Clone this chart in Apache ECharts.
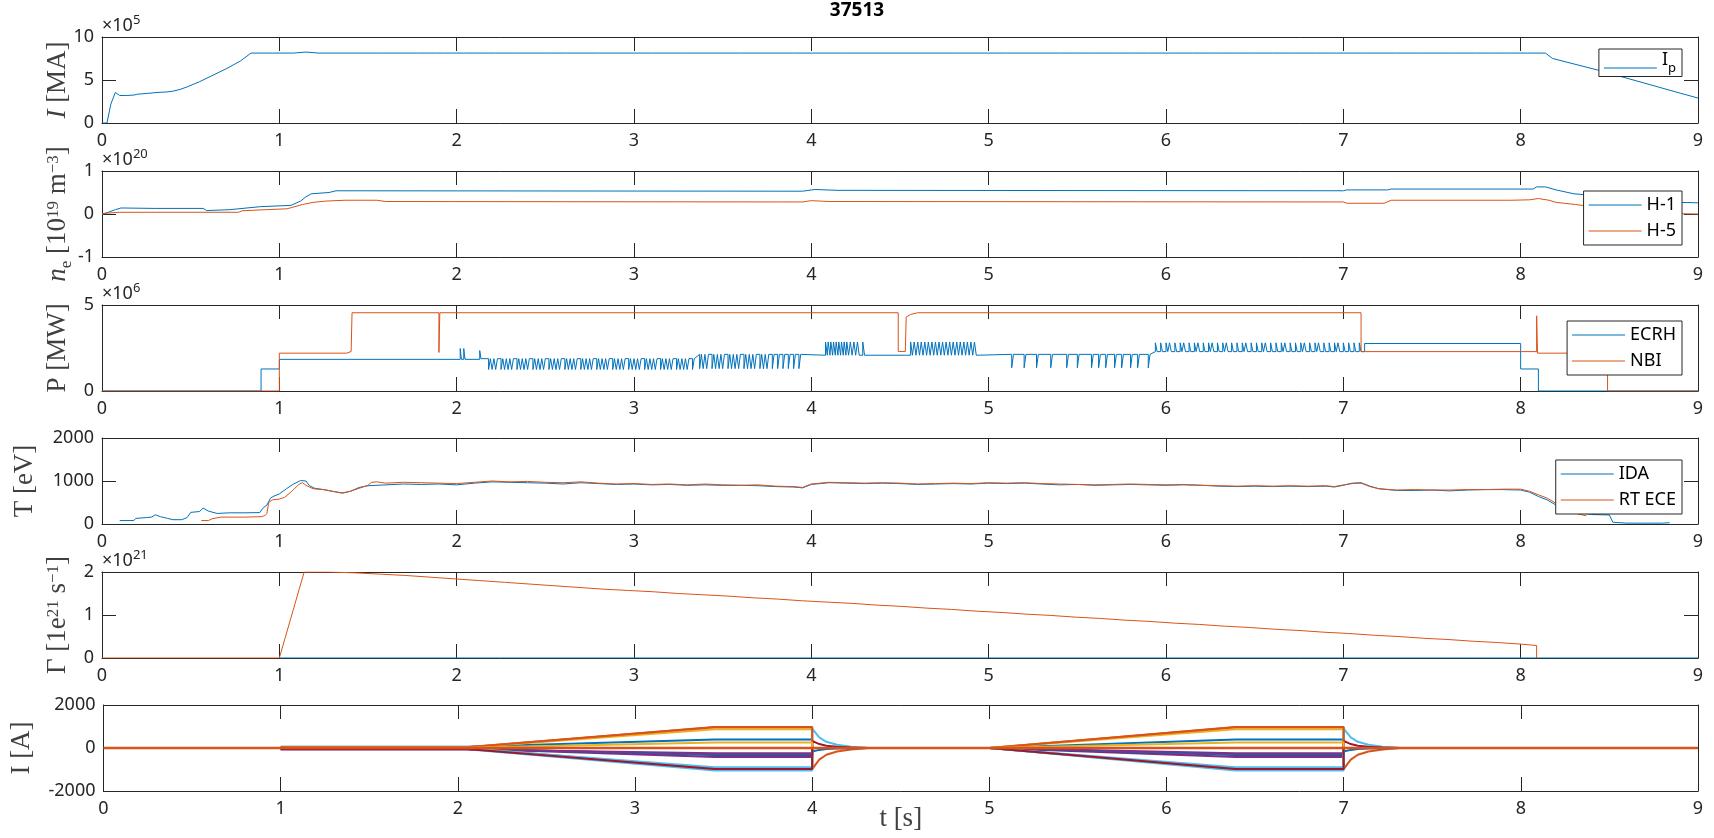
<!DOCTYPE html>
<html>
<head>
<meta charset="utf-8">
<title>37513</title>
<script src="https://cdn.jsdelivr.net/npm/echarts@6/dist/echarts.min.js"></script>
<style>
html, body { margin: 0; padding: 0; background: #fff; }
#main { width: 1714px; height: 838px; }
</style>
</head>
<body>
<div id="main"></div>
<script>
var myChart = echarts.init(document.getElementById('main'));

// ---- data ----
// plasma current, x1e5
var ipHeadT = [0, 0.028, 0.05, 0.075, 0.085, 0.1, 0.14, 0.18, 0.2, 0.26, 0.31, 0.36, 0.4, 0.44, 0.48, 0.55, 0.62, 0.7, 0.78, 0.84, 1.08, 1.09, 1.15, 1.16];
var ipHeadV = [0, 0, 2.2, 3.55, 3.6, 3.2, 3.2, 3.25, 3.35, 3.45, 3.55, 3.6, 3.7, 3.9, 4.2, 4.8, 5.5, 6.3, 7.2, 8.13, 8.13, 8.25, 8.25, 8.13];
var ipBlipT = [1.22, 1.28, 1.55, 1.72, 1.78, 1.83, 1.88, 1.93, 1.97, 2.05, 2.1, 2.16, 2.22, 2.35, 2.5, 2.62, 2.8, 3.1, 3.3, 3.6, 3.9, 4.2, 4.5, 4.8, 5.1, 5.4, 5.5, 5.6, 5.7, 5.8, 5.9, 6.05, 6.15, 6.25, 6.3, 6.4, 6.5, 6.6, 6.7, 6.85, 6.92, 7.1, 7.3, 7.45, 7.62, 7.75, 7.85, 7.92];
var ipFlat = 8.13, ipBlip = 8.35;
var ipTailT = [8.14, 8.18, 8.44, 8.9, 9.0];
var ipTailV = [8.13, 7.5, 6.13, 3.47, 2.9];

// density, x1e20
var h1T = [0, 0.028, 0.075, 0.107, 0.3, 0.57, 0.59, 0.72, 0.89, 1.065, 1.12, 1.15, 1.18, 1.28, 1.32, 3.95, 4.02, 4.15, 7.0, 7.02, 7.25, 7.27, 8.07, 8.09, 8.14, 8.2, 8.3, 8.9, 9.0];
var h1V = [0, 0.03, 0.1, 0.14, 0.13, 0.13, 0.08, 0.1, 0.17, 0.2, 0.3, 0.4, 0.47, 0.5, 0.54, 0.53, 0.57, 0.55, 0.54, 0.56, 0.56, 0.58, 0.58, 0.63, 0.63, 0.56, 0.47, 0.27, 0.26];
var h5T = [0, 0.03, 0.1, 0.77, 0.79, 0.92, 1.04, 1.07, 1.13, 1.19, 1.26, 1.37, 1.55, 1.6, 3.95, 4.0, 4.1, 7.0, 7.02, 7.23, 7.27, 7.95, 8.05, 8.1, 8.16, 8.2, 8.31, 8.5, 8.85, 9.0];
var h5V = [0, 0.02, 0.04, 0.04, 0.075, 0.1, 0.12, 0.15, 0.22, 0.27, 0.3, 0.32, 0.32, 0.29, 0.28, 0.31, 0.29, 0.28, 0.25, 0.25, 0.32, 0.32, 0.33, 0.36, 0.32, 0.27, 0.22, 0.12, 0.01, 0];

// heating power, x1e6
var nbiT = [0, 1.0, 1.0, 1.38, 1.38, 1.405, 1.41, 1.9, 1.9, 1.905, 4.49, 4.49, 4.53, 4.535, 4.56, 4.6, 7.1, 7.1, 8.09, 8.09, 8.095, 8.49, 8.49, 9.0];
var nbiV = [0, 0, 2.2, 2.2, 2.3, 2.3, 4.55, 4.55, 2.24, 4.55, 4.55, 2.3, 2.3, 4.3, 4.45, 4.55, 4.55, 2.29, 2.29, 4.37, 2.2, 2.2, 0, 0];
var ecrhHead = [[0, 0], [0.897, 0], [0.897, 1.28], [1.0, 1.28], [1.0, 1.84], [2.02, 1.84], [2.02, 2.47], [2.027, 1.84], [2.04, 1.84], [2.04, 2.47], [2.047, 1.84], [2.13, 1.84], [2.13, 2.35], [2.137, 1.88]];
var ecrhTail = [[7.12, 2.29], [7.12, 2.76], [8.0, 2.76], [8.0, 1.28], [8.1, 1.28], [8.1, 0], [9.0, 0]];
// modulation bursts: spike times, base level, spike level
var ecrhBurstT = [
  [2.18, 2.20, 2.22, 2.25, 2.27, 2.29, 2.31, 2.34, 2.36, 2.38, 2.40, 2.43, 2.45, 2.47, 2.49, 2.52, 2.54, 2.56, 2.58, 2.61, 2.63, 2.65, 2.67, 2.70, 2.72, 2.74, 2.76, 2.79, 2.81, 2.83, 2.85, 2.88, 2.90, 2.92, 2.94, 2.97, 2.99, 3.01, 3.03, 3.06, 3.08, 3.10, 3.12, 3.15, 3.17, 3.19, 3.21, 3.24, 3.26, 3.28, 3.30, 3.33],
  [3.37, 3.39, 3.41, 3.44, 3.46, 3.48, 3.50, 3.53, 3.55, 3.57, 3.59, 3.62, 3.64, 3.66, 3.68, 3.71, 3.73, 3.75, 3.78, 3.81, 3.84, 3.87, 3.90, 3.93],
  [4.08, 4.095, 4.11, 4.125, 4.14, 4.155, 4.17, 4.185, 4.20, 4.22, 4.24, 4.26, 4.29],
  [4.56, 4.58, 4.60, 4.62, 4.64, 4.66, 4.68, 4.70, 4.72, 4.74, 4.76, 4.78, 4.80, 4.82, 4.84, 4.86, 4.88, 4.90, 4.92],
  [5.13, 5.20, 5.27, 5.35, 5.44, 5.50, 5.58, 5.62, 5.66, 5.71, 5.75, 5.80, 5.84, 5.90],
  [5.94, 5.97, 6.00, 6.02, 6.05, 6.08, 6.10, 6.13, 6.16, 6.18, 6.21, 6.24, 6.26, 6.29, 6.32, 6.34, 6.37, 6.40, 6.43, 6.45, 6.48, 6.51, 6.54, 6.56, 6.59, 6.62, 6.65, 6.67, 6.70, 6.73, 6.76, 6.78, 6.81, 6.84, 6.86, 6.89, 6.92, 6.95, 6.97, 7.00, 7.03, 7.06, 7.09]
];
var ecrhBurstBase = [1.88, 2.13, 2.08, 2.08, 2.13, 2.29];
var ecrhBurstPeak = [1.25, 1.30, 2.85, 2.85, 1.35, 2.80];

// electron temperature, eV
var idaT = [0.1, 0.18, 0.19, 0.25, 0.28, 0.3, 0.31, 0.33, 0.37, 0.4, 0.45, 0.48, 0.5, 0.55, 0.57, 0.6, 0.65, 0.72, 0.8, 0.89, 0.91, 0.93, 0.95, 0.97, 1.0, 1.04, 1.08, 1.12, 1.15, 1.17, 1.2, 1.25, 1.3, 1.36, 1.4, 1.45, 1.5, 1.6, 1.7, 1.8, 1.9, 2.0, 2.1, 2.2, 2.3, 2.4, 2.5, 2.6, 2.7, 2.8, 2.9, 3.0, 3.1, 3.2, 3.3, 3.4, 3.5, 3.6, 3.7, 3.8, 3.9, 3.95, 4.0, 4.1, 4.2, 4.3, 4.4, 4.5, 4.6, 4.7, 4.8, 4.9, 5.0, 5.1, 5.2, 5.3, 5.4, 5.5, 5.6, 5.7, 5.8, 5.9, 6.0, 6.1, 6.2, 6.3, 6.4, 6.5, 6.6, 6.7, 6.8, 6.9, 6.95, 7.0, 7.05, 7.1, 7.15, 7.2, 7.3, 7.4, 7.5, 7.6, 7.7, 7.8, 7.9, 8.0, 8.05, 8.1, 8.15, 8.2, 8.25, 8.3, 8.4, 8.5, 8.52, 8.6, 8.7, 8.8, 8.84];
var idaV = [80, 80, 130, 150, 160, 215, 200, 170, 130, 100, 100, 150, 270, 290, 370, 300, 245, 260, 260, 265, 380, 440, 600, 650, 700, 820, 930, 1010, 1000, 890, 830, 800, 760, 720, 760, 850, 890, 910, 930, 920, 930, 910, 950, 980, 970, 960, 950, 930, 960, 940, 920, 930, 910, 920, 900, 910, 900, 900, 890, 870, 860, 840, 920, 960, 950, 940, 950, 940, 920, 930, 940, 930, 950, 940, 950, 930, 910, 920, 900, 910, 920, 910, 900, 910, 900, 880, 870, 880, 870, 880, 870, 880, 860, 900, 950, 960, 880, 820, 780, 780, 790, 770, 790, 800, 800, 790, 740, 640, 560, 440, 340, 280, 220, 210, 40, 20, 20, 20, 30];
var eceT = [0.56, 0.6, 0.62, 0.67, 0.8, 0.9, 0.92, 0.93, 0.94, 0.96, 1.0, 1.03, 1.07, 1.11, 1.13, 1.15, 1.19, 1.25, 1.3, 1.35, 1.4, 1.45, 1.5, 1.52, 1.55, 1.6, 1.7, 1.8, 1.9, 2.0, 2.1, 2.2, 2.3, 2.4, 2.5, 2.6, 2.7, 2.8, 2.9, 3.0, 3.1, 3.2, 3.3, 3.4, 3.5, 3.6, 3.7, 3.8, 3.9, 3.95, 4.0, 4.1, 4.2, 4.3, 4.4, 4.5, 4.6, 4.7, 4.8, 4.9, 5.0, 5.1, 5.2, 5.3, 5.4, 5.5, 5.6, 5.7, 5.8, 5.9, 6.0, 6.1, 6.2, 6.3, 6.4, 6.5, 6.6, 6.7, 6.8, 6.9, 6.95, 7.0, 7.05, 7.1, 7.15, 7.2, 7.3, 7.4, 7.5, 7.6, 7.7, 7.8, 7.9, 8.0, 8.05, 8.1, 8.15, 8.2, 8.25, 8.3, 8.37];
var eceV = [80, 80, 120, 160, 160, 170, 200, 250, 500, 560, 580, 620, 760, 920, 960, 900, 820, 800, 760, 720, 760, 830, 900, 970, 980, 950, 970, 960, 950, 940, 970, 1000, 980, 990, 970, 960, 980, 950, 930, 940, 920, 930, 910, 930, 910, 900, 910, 880, 870, 850, 930, 970, 960, 950, 960, 950, 930, 940, 950, 940, 960, 950, 960, 940, 930, 920, 910, 920, 930, 920, 910, 920, 900, 890, 880, 890, 880, 890, 880, 890, 870, 910, 940, 950, 870, 820, 790, 800, 790, 790, 800, 800, 810, 810, 760, 680, 600, 480, 380, 260, 190];

// particle flux, x1e21 (ramp, then a slow staircase, off at 8.09 s)
var gamRampT = [0, 1.0, 1.14];
var gamRampV = [0, 0, 2.0];
var gamStepT = [1.14, 1.28, 1.43, 1.57, 1.71, 1.85, 1.99, 2.13, 2.27, 2.41, 2.55, 2.69, 2.83, 2.97, 3.11, 3.25, 3.39, 3.53, 3.67, 3.81, 3.95, 4.09, 4.23, 4.37, 4.51, 4.65, 4.79, 4.93, 5.07, 5.21, 5.35, 5.49, 5.63, 5.77, 5.91, 6.05, 6.19, 6.33, 6.47, 6.61, 6.75, 6.89, 7.03, 7.17, 7.31, 7.45, 7.59, 7.73, 7.87, 8.01];
var gamStepV = [2.0, 1.98, 1.95, 1.92, 1.88, 1.84, 1.80, 1.76, 1.72, 1.68, 1.64, 1.60, 1.57, 1.54, 1.50, 1.47, 1.44, 1.40, 1.37, 1.33, 1.30, 1.27, 1.23, 1.20, 1.16, 1.13, 1.09, 1.06, 1.02, 0.99, 0.95, 0.92, 0.88, 0.85, 0.81, 0.78, 0.74, 0.71, 0.67, 0.64, 0.60, 0.57, 0.53, 0.50, 0.46, 0.43, 0.39, 0.36, 0.32, 0.29];
var gamOffT = 8.09;
var gam2T = [1.0, 9.0];
var gam2V = [0, 0];

// coil currents, A
var coilOffset  = [60, 40, 20, -40, -10, -60, -30, -50, 30, 10, -70, 0, -20, -45];
var coilPlateau = [390, 980, 870, -420, -990, -1050, -330, -300, 960, 260, -240, -960, -900, -980];
var coilKick    = [0, -980, 0, 0, 0, 900, 330, -160, 0, 0, 0, 0, 0, 0];
var pulseStart = [2.05, 5.0];
var pulseFlat  = [3.45, 6.39];
var pulseEnd   = [4.0, 7.0];
var decayDt   = [0, 0.04, 0.08, 0.14, 0.22, 0.32];
var decayFrac = [1, 0.55, 0.32, 0.17, 0.07, 0];

// axes
var yMin  = [0, -1, 0, 0, 0, -2000];
var yMax  = [10, 1, 5, 2000, 2, 2000];
var yStep = [5, 1, 5, 1000, 1, 2000];
var yNames = [
  '{mi|I}{m| [MA]}',
  '{mi|n}{sub|e}{m| [10}{sup|19}{m| m}{sup|−3}{m|]}',
  '{m|P [MW]}',
  '{m|T [eV]}',
  '{m|Γ [1e}{sup|21}{m| s}{sup|−1}{m|]}',
  '{m|I [A]}'
];
var yNameGap = [27, 27, 27, 60, 27, 65];
var expo = ['5', '20', '6', null, '21', null];

// ---- layout ----
var gridTop = [37, 171, 305, 438, 572, 705];
var gridH = 86;
var legendDy = [12, 20, 16, 22];
var sans = 'Noto Sans';
var serif = 'Liberation Serif';
var ink = '#262626';
var grey = '#404040';
var colors = ['#0072BD', '#D95319', '#EDB120', '#7E2F8E', '#77AC30', '#4DBEEE', '#A2142F'];

var serifRich = {
  m: { fontFamily: serif, fontSize: 27, lineHeight: 34, color: grey, verticalAlign: 'middle' },
  mi: { fontFamily: serif, fontSize: 27, lineHeight: 34, color: grey, fontStyle: 'italic', verticalAlign: 'middle' },
  sup: { fontFamily: serif, fontSize: 17, lineHeight: 17, padding: [4, 0, 0, 0], color: grey, verticalAlign: 'top' },
  sub: { fontFamily: serif, fontSize: 17, lineHeight: 17, color: grey, verticalAlign: 'bottom' }
};

function zip(t, v) {
  return t.map(function (x, i) { return [x, v[i]]; });
}

function spikes(times, base, peak, w) {
  var out = [];
  w = w || 0.01;
  times.forEach(function (t) {
    out.push([t, base], [t, peak], [t + w, peak], [t + w, base]);
  });
  return out;
}

var ipData = zip(ipHeadT, ipHeadV)
  .concat(spikes(ipBlipT, ipFlat, ipBlip, 0.006))
  .concat(zip(ipTailT, ipTailV));

var ecrhData = ecrhHead.slice();
ecrhBurstT.forEach(function (ts, k) {
  ecrhData = ecrhData.concat(spikes(ts, ecrhBurstBase[k], ecrhBurstPeak[k]));
});
ecrhData = ecrhData.concat(ecrhTail);

var gamData = zip(gamRampT, gamRampV);
gamStepT.forEach(function (t, i) {
  var next = i + 1 < gamStepT.length ? gamStepT[i + 1] : gamOffT;
  gamData.push([t, gamStepV[i]], [next, gamStepV[i]]);
});
gamData.push([gamOffT, 0]);

function coilData(i) {
  var d = [[1, coilOffset[i]]];
  for (var p = 0; p < 2; p++) {
    d.push([pulseStart[p], p === 0 ? coilOffset[i] : 0]);
    d.push([pulseFlat[p], coilPlateau[i]]);
    d.push([pulseEnd[p], coilPlateau[i]]);
    decayDt.forEach(function (dt, k) {
      d.push([pulseEnd[p] + dt, coilKick[i] * decayFrac[k]]);
    });
  }
  d.push([9, 0]);
  return d;
}

var grids = [], xAxes = [], yAxes = [], titles = [], series = [];

titles.push({
  text: '37513', left: 'center', top: 1, padding: 0,
  textStyle: { fontFamily: sans, fontSize: 19, fontWeight: 'bold', color: '#000' }
});

function plain(v) { return String(v); }

gridTop.forEach(function (top, i) {
  grids.push({ left: 102, right: 16, top: top, height: gridH });
  var tick = { inside: true, length: 14, lineStyle: { color: ink, width: 1 } };
  var line = { onZero: false, lineStyle: { color: ink, width: 1 } };
  var lab = { color: ink, fontFamily: sans, fontSize: 18, showMinLabel: true, showMaxLabel: true, formatter: plain };
  xAxes.push({
    gridIndex: i, type: 'value', position: 'bottom', min: 0, max: 9, interval: 1,
    axisLine: line, axisTick: tick, splitLine: { show: false },
    axisLabel: Object.assign({ margin: 9 }, lab),
    name: i === 5 ? '{m|t [s]}' : '', nameLocation: 'middle', nameGap: 11, nameMoveOverlap: false,
    nameTextStyle: { rich: serifRich }
  });
  xAxes.push({
    gridIndex: i, type: 'value', position: 'top', min: 0, max: 9, interval: 1,
    axisLine: line, axisTick: tick, splitLine: { show: false }, axisLabel: { show: false }
  });
  yAxes.push({
    gridIndex: i, type: 'value', position: 'left', min: yMin[i], max: yMax[i], interval: yStep[i],
    axisLine: line, axisTick: tick, splitLine: { show: false },
    axisLabel: Object.assign({ margin: 8 }, lab),
    name: yNames[i], nameLocation: 'middle', nameGap: yNameGap[i], nameRotate: 90, nameMoveOverlap: false,
    nameTextStyle: { rich: serifRich }
  });
  yAxes.push({
    gridIndex: i, type: 'value', position: 'right', min: yMin[i], max: yMax[i], interval: yStep[i],
    axisLine: line, axisTick: tick, splitLine: { show: false }, axisLabel: { show: false }
  });
  if (expo[i]) {
    titles.push({
      text: '{t|×10}{s|' + expo[i] + '}', left: 102, top: top - 23, padding: 0,
      textStyle: {
        fontWeight: 'normal',
        rich: {
          t: { fontFamily: sans, fontSize: 18, fontWeight: 'normal', lineHeight: 24, color: ink, verticalAlign: 'middle' },
          s: { fontFamily: sans, fontSize: 13, fontWeight: 'normal', lineHeight: 13, color: ink, verticalAlign: 'top' }
        }
      }
    });
  }
});

function line(name, data, gi, color, width) {
  return {
    name: name, type: 'line', data: data, xAxisIndex: 2 * gi, yAxisIndex: 2 * gi,
    symbol: 'none', color: color, lineStyle: { color: color, width: width || 1 },
    emphasis: { disabled: true }
  };
}

series.push(line('Ip', ipData, 0, colors[0]));
series.push(line('H-1', zip(h1T, h1V), 1, colors[0]));
series.push(line('H-5', zip(h5T, h5V), 1, colors[1]));
series.push(line('ECRH', ecrhData, 2, colors[0]));
series.push(line('NBI', zip(nbiT, nbiV), 2, colors[1]));
series.push(line('IDA', zip(idaT, idaV), 3, colors[0]));
series.push(line('RT ECE', zip(eceT, eceV), 3, colors[1]));
series.push(line('gamma-2', zip(gam2T, gam2V), 4, colors[0]));
series.push(line('gamma-1', gamData, 4, colors[1]));
coilPlateau.forEach(function (p, i) {
  series.push(line('coil-' + (i + 1), coilData(i), 5, colors[i % 7], 2));
});
series.push(line('coil-0', [[0, 0], [9, 0]], 5, colors[1], 2.5));

function legend(names, gi, extra) {
  return Object.assign({
    data: names, orient: 'vertical', right: 32, top: gridTop[gi] + legendDy[gi],
    backgroundColor: '#fff', borderColor: ink, borderWidth: 1, borderRadius: 0,
    padding: [4, 6, 4, 5], itemWidth: 53, itemHeight: 1.2, itemGap: 6,
    icon: 'rect', selectedMode: false,
    textStyle: { fontFamily: sans, fontSize: 18, color: '#000', lineHeight: 20 }
  }, extra || {});
}

var option = {
  animation: false,
  backgroundColor: '#fff',
  title: titles,
  grid: grids,
  xAxis: xAxes,
  yAxis: yAxes,
  legend: [
    legend(['Ip'], 0, {
      padding: [2, 6, 2, 5],
      formatter: function () { return '{n|I}{s|p}'; },
      textStyle: {
        rich: {
          n: { fontFamily: sans, fontSize: 18, lineHeight: 18, color: '#000', verticalAlign: 'top' },
          s: { fontFamily: sans, fontSize: 13, lineHeight: 34, color: '#000', verticalAlign: 'middle' }
        }
      }
    }),
    legend(['H-1', 'H-5'], 1),
    legend(['ECRH', 'NBI'], 2),
    legend(['IDA', 'RT ECE'], 3)
  ],
  series: series
};

myChart.setOption(option);
</script>
</body>
</html>
